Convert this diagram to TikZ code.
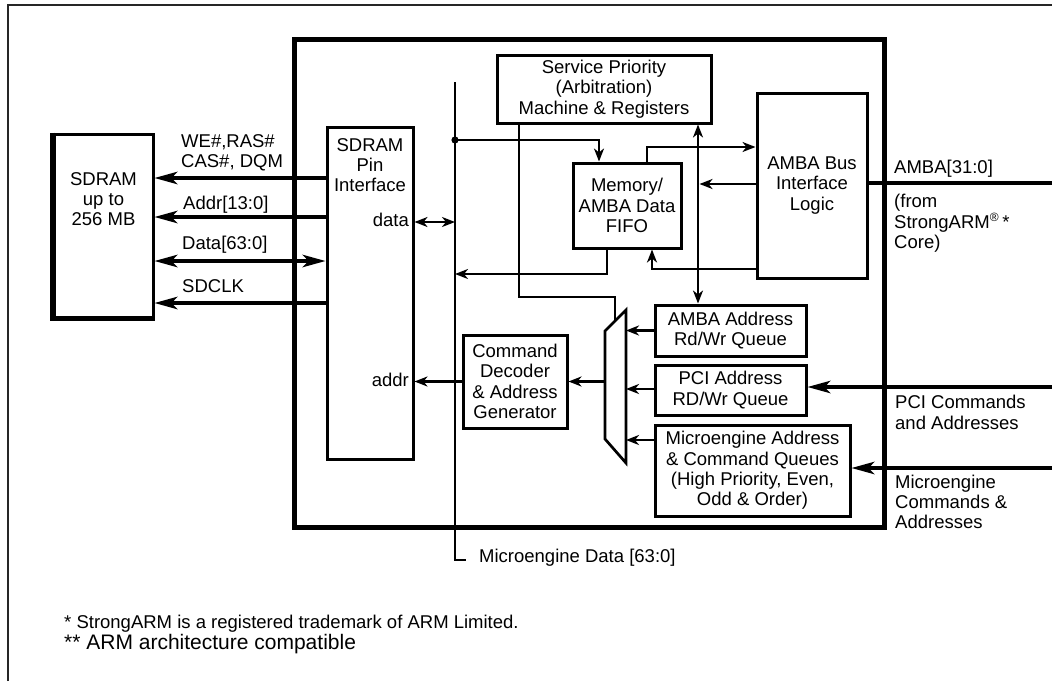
\documentclass[tikz,border=0pt]{standalone}
\usepackage{fontspec}
\setmainfont{Liberation Sans}
\usetikzlibrary{arrows.meta}
\tikzset{
  tipS/.tip={Stealth[length=13pt,width=10pt,inset=4pt]},
  tipL/.tip={Stealth[length=23pt,width=12.5pt,inset=6pt]},
}
\begin{document}
\begin{tikzpicture}[x=1pt,y=-1pt,
  font=\fontsize{18.5}{20.3}\selectfont,
  blk/.style={draw,line width=3pt,inner sep=0pt,align=center},
  wire/.style={line width=2.7pt},
  ext/.style={line width=3.3pt},
  lbl/.style={inner sep=0pt},
  line join=miter]
\useasboundingbox (0,0) rectangle (1052,681);

% page frame
\draw[line width=1.6pt,black!85] (8,681) -- (8,5) -- (1052,5);

% chip outline
\node[draw,line width=5pt,inner sep=0pt,minimum width=590pt,minimum height=488pt] (chip) at (589,283) {};

% external SDRAM
\node[blk,minimum width=99pt,minimum height=183pt] (sdram) at (103.5,225.5) {};
\draw[line width=5.5pt] (sdram.north west) -- (sdram.south west) -- (sdram.south east);
\node[lbl,align=center] (sdramtxt) at (103.5,199) {SDRAM\\up to\\256 MB};

% SDRAM pin interface
\node[blk,minimum width=86pt,minimum height=332pt] (pin) at (370,293) {};
\node[lbl,align=center] (pintxt) at (370,165) {SDRAM\\Pin\\Interface};
\node[lbl,anchor=base east] (datalbl) at (409,226) {data};
\node[lbl,anchor=base east] (addrlbl) at (409,386) {addr};

% functional blocks
\node[blk,minimum width=214pt,minimum height=68pt] (sp) at (604,89) {Service Priority\\(Arbitration)\\Machine \& Registers};
\node[blk,minimum width=108pt,minimum height=85pt] (fifo) at (627,205.5) {Memory/\\AMBA Data\\FIFO};
\node[blk,minimum width=110pt,minimum height=185pt] (amba) at (812,185.5) {AMBA Bus\\Interface\\Logic};
\node[blk,minimum width=151pt,minimum height=51pt] (aq) at (730.5,330.5) {AMBA Address\\Rd/Wr Queue};
\node[blk,minimum width=151pt,minimum height=50pt] (pq) at (730.5,390) {PCI Address\\RD/Wr Queue};
\node[blk,minimum width=195pt,minimum height=91pt] (mq) at (752.5,470.5) {Microengine Address\\\& Command Queues\\(High Priority, Even,\\Odd \& Order)};
\node[blk,minimum width=104pt,minimum height=93pt] (cmd) at (515,381.5) {Command\\Decoder\\\& Address\\Generator};

% address multiplexer
\coordinate (muxTL) at (605,331);
\coordinate (muxTR) at (626,310);
\coordinate (muxBR) at (626,463);
\coordinate (muxBL) at (605,439);
\draw[wire] (muxTL) -- (muxTR) -- (muxBR) -- (muxBL) -- cycle;

% microengine data bus
\coordinate (busTop) at (455,82);
\coordinate (busBot) at (455,560);
\coordinate (busEnd) at (466,560);
\draw[wire] (busTop) -- (busBot) -- (busEnd);
\node[lbl,anchor=west] (medata) at (479,558) {Microengine Data [63:0]};
\coordinate (tap) at (455,140);
\fill (tap) circle (3.6pt);

% SDRAM signals
\draw[ext,-tipL] (pin.west |- 0,178) -- (sdram.east |- 0,178);
\draw[ext,-tipL] (pin.west |- 0,217) -- (sdram.east |- 0,217);
\draw[ext,tipL-tipL] (sdram.east |- 0,261) -- (pin.west |- 0,261);
\draw[ext,-tipL] (pin.west |- 0,303) -- (sdram.east |- 0,303);
\node[lbl,anchor=base west] (welbl) at (181,147) {WE\#,RAS\#};
\node[lbl,anchor=base west] (caslbl) at (181,167) {CAS\#, DQM};
\node[lbl,anchor=base west] (addrsig) at (183,209) {Addr[13:0]};
\node[lbl,anchor=base west] (datasig) at (182,249) {Data[63:0]};
\node[lbl,anchor=base west] (clksig) at (182,292) {SDCLK};

% internal data paths
\draw[wire,tipS-tipS] (pin.east |- 0,222) -- (busTop |- 0,222);
\draw[wire,-tipS] (tap) -| ([xshift=-28pt]fifo.north);
\draw[wire,-tipS] ([xshift=20pt]fifo.north) |- (amba.west |- 0,147);
\draw[wire,-tipS] (amba.west |- 0,184) -- (699.5,184);
\draw[wire,-tipS] ([xshift=-20pt]fifo.south) |- (busTop |- 0,274);
\draw[wire,-tipS] (amba.west |- 0,269) -| ([xshift=25pt]fifo.south);
\draw[wire,tipS-tipS] (sp.south -| 698,0) -- (aq.north -| 698,0);
\draw[wire] ([xshift=-85pt]sp.south) |- (615,297) -- (615,320.5);

% address path
\draw[wire,-tipS] (aq.west) -- (aq.west -| muxTR);
\draw[wire,-tipS] (pq.west |- 0,389) -- (muxTR |- 0,389);
\draw[wire,-tipS] (mq.west |- 0,440) -- (muxTR |- 0,440);
\draw[wire,-tipS] (cmd.east -| muxTL) -- (cmd.east);
\draw[wire,-tipS] (cmd.west) -- (cmd.west -| pin.east);

% external buses
\coordinate (ambaEnd) at (1052,183);
\coordinate (pciEnd) at (1052,387);
\coordinate (meEnd) at (1052,468);
\draw[ext] (amba.east |- ambaEnd) -- (ambaEnd);
\draw[ext,-tipL] (pciEnd) -- (pq.east |- pciEnd);
\draw[ext,-tipL] (meEnd) -- (mq.east |- meEnd);

\node[lbl,anchor=base west] (ambasig) at (894,173) {AMBA[31:0]};
\node[lbl,anchor=base west] (from1) at (894,207) {(from};
\node[lbl,anchor=base west] (from2) at (894,228) {StrongARM\textsuperscript{\large ®}\,*};
\node[lbl,anchor=base west] (from3) at (894,248) {Core)};
\node[lbl,anchor=base west] (pci1) at (895,408) {PCI Commands};
\node[lbl,anchor=base west] (pci2) at (895,429) {and Addresses};
\node[lbl,anchor=base west] (me1) at (895,488) {Microengine};
\node[lbl,anchor=base west] (me2) at (895,508) {Commands \&};
\node[lbl,anchor=base west] (me3) at (895,528) {Addresses};

% footnotes
\node[lbl,anchor=base west] (fn1) at (64,628) {* StrongARM is a registered trademark of ARM Limited.};
\node[lbl,anchor=base west,font=\fontsize{21}{24}\selectfont] (fn2) at (64,649) {** ARM architecture compatible};
\end{tikzpicture}
\end{document}
